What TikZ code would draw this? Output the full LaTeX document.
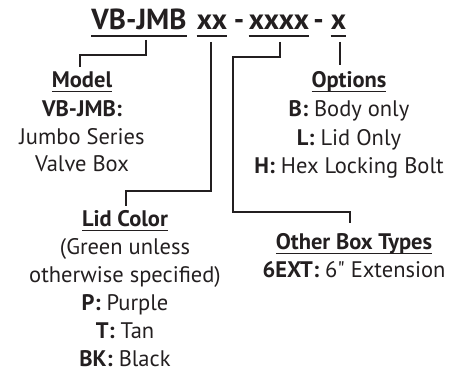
\documentclass[tikz,border=0pt]{standalone}
\usepackage{fontspec}
\setmainfont{PT Sans}
\definecolor{ink}{HTML}{231F20}
\newcommand\hul[2][4.5pt]{\setbox0\hbox{#2}\rlap{\rule[-#1]{\wd0}{1.4pt}}\box0}
\begin{document}
\begin{tikzpicture}[x=1pt,y=-1pt,
  every node/.style={text=ink,inner sep=0pt},
  ttl/.style={font=\bfseries\fontsize{29}{32}\selectfont,anchor=base},
  ln/.style={font=\fontsize{22.5}{26}\selectfont,anchor=base},
  conn/.style={draw=ink,line width=2.4pt},
  tul/.style={draw=ink,line width=2pt}]
\useasboundingbox (0,0) rectangle (463,371);
% title parts
\node[ttl] (vb) at (139,30) {VB-JMB};
\node[ttl] (xx) at (212,30) {xx};
\node[ttl] (d1) at (239,30) {-};
\node[ttl] (x4) at (279,30) {xxxx};
\node[ttl] (d2) at (318.5,30) {-};
\node[ttl] (x1) at (338.5,30) {x};
\foreach \n in {vb,xx,x4,x1}
  \draw[tul] ([yshift=-6pt]\n.base west) -- ([yshift=-6pt]\n.base east);
% Model block
\node[ln] (model) at (82,88) {\textbf{\hul{Model}}};
\node[ln] (m2) at (82,117) {\textbf{VB-JMB:}};
\node[ln] (m3) at (82,145) {Jumbo Series};
\node[ln] (m4) at (82,172) {Valve Box};
% Options block
\node[ln] (opt) at (349,88) {\textbf{\hul{Options}}};
\node[ln] (o2) at (349,117) {\textbf{B:} Body only};
\node[ln] (o3) at (349,146) {\textbf{L:} Lid Only};
\node[ln] (o4) at (349,174) {\textbf{H:} Hex Locking Bolt};
% Lid block
\node[ln] (lid) at (125,227) {\textbf{\hul{Lid Color}}};
\node[ln] (l2) at (125,255) {(Green unless};
\node[ln] (l3) at (125,283) {otherwise specified)};
\node[ln] (l4) at (125,310.5) {\textbf{P:} Purple};
\node[ln] (l5) at (125,338) {\textbf{T:} Tan};
\node[ln] (l6) at (125,366) {\textbf{BK:} Black};
% Other block
\node[ln] (oth) at (354,250) {\textbf{\hul{Other Box Types}}};
\node[ln] (t2) at (354,277) {\textbf{6EXT:} 6\textquotedbl{} Extension};
% connectors
\draw[conn] ([xshift=7pt,yshift=-10pt]vb.base) |- (80,55) -- ([yshift=5pt]model.north -| 80,0);
\draw[conn] ([xshift=-1pt,yshift=-12pt]xx.base) |- (126,191) -- ([yshift=5pt]lid.north -| 126,0);
\draw[conn] ([xshift=1pt,yshift=-12pt]x4.base) |- (233,57) |- (350,212) -- ([yshift=11pt]oth.north -| 350,0);
\draw[conn] ([xshift=1.5pt,yshift=-12pt]x1.base) -- ([yshift=7pt]opt.north -| 340,0);
\end{tikzpicture}
\end{document}
